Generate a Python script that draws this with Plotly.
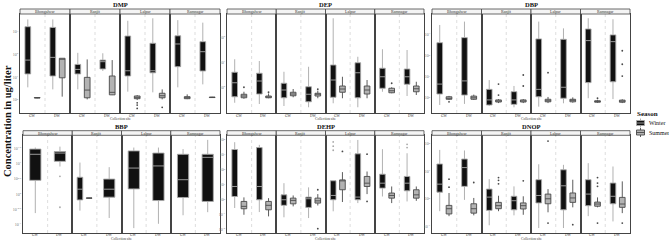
import plotly.graph_objects as go

SITES = ["Bhongalwar", "Ranjit", "Lalpur", "Ramnagar"]
CATS = ["GW", "DW"]
SEASONS = ["Winter", "Summer"]
PANELS = ["DMP", "DEP", "DBP", "BBP", "DEHP", "DNOP"]

# Each box: [lower whisker, q1, median, q3, upper whisker] in log10(ug/liter), one per site.
DMP_GW_WINTER = [[0.56, 1.15, 1.76, 3.23, 3.55], [0.47, 1.15, 1.35, 1.57, 2.08], [0.37, 1.06, 1.29, 2.82, 3.49], [0.56, 1.47, 2.47, 2.83, 3.52]]
DMP_GW_SUMMER = [[0.08, 0.09, 0.10, 0.11, 0.12], [0.03, 0.10, 0.44, 1.00, 1.79], [0.00, 0.06, 0.12, 0.18, 0.22], [0.04, 0.06, 0.10, 0.15, 0.25]]
DMP_DW_WINTER = [[0.47, 1.06, 1.88, 3.20, 3.55], [1.28, 1.37, 1.69, 1.76, 2.06], [0.34, 1.20, 1.29, 2.50, 3.60], [0.69, 1.28, 2.13, 2.57, 3.41]]
DMP_DW_SUMMER = [[0.15, 0.98, 1.80, 1.84, 1.84], [0.22, 0.23, 0.34, 1.06, 1.76], [0.03, 0.10, 0.19, 0.30, 0.47], [0.10, 0.11, 0.12, 0.13, 0.14]]
DMP_GW_SUMMER_OUT = [[], [], [-0.12, -0.22, -0.37], []]
DMP_DW_SUMMER_OUT = [[], [], [-0.32], []]

DEP_GW_WINTER = [[-0.62, -0.38, 0.18, 0.60, 1.12], [-0.75, -0.42, -0.11, 0.16, 0.62], [-0.64, -0.40, 0.29, 0.89, 2.76], [-0.18, -0.04, 0.42, 0.76, 1.52]]
DEP_GW_SUMMER = [[-0.46, -0.42, -0.35, -0.28, -0.18], [-0.40, -0.34, -0.27, -0.20, -0.07], [-0.44, -0.20, -0.07, 0.05, 0.42], [-0.24, -0.22, -0.14, -0.04, 0.00]]
DEP_DW_WINTER = [[-0.67, -0.27, 0.25, 0.56, 1.05], [-0.80, -0.58, -0.28, 0.02, 0.82], [-0.80, -0.42, 0.58, 0.98, 1.22], [-0.35, 0.12, 0.42, 0.73, 1.49]]
DEP_DW_SUMMER = [[-0.44, -0.42, -0.39, -0.35, -0.25], [-0.44, -0.35, -0.28, -0.24, -0.14], [-0.44, -0.27, -0.11, 0.05, 0.29], [-0.31, -0.18, -0.06, 0.05, 0.22]]
DEP_GW_SUMMER_OUT = [[0.0], [], [], [0.16]]
DEP_DW_SUMMER_OUT = [[-0.2], [-0.08], [], []]

DBP_GW_WINTER = [[-0.33, 0.19, 0.66, 2.62, 3.46], [-0.38, -0.33, -0.09, 0.41, 0.85], [-0.41, 0.06, 0.41, 2.80, 3.62], [-0.01, 0.73, 2.72, 3.27, 3.78]]
DBP_GW_SUMMER = [[-0.10, -0.06, -0.02, 0.06, 0.10], [-0.24, -0.19, -0.14, -0.09, -0.05], [-0.24, -0.18, -0.13, -0.06, 0.05], [-0.23, -0.20, -0.16, -0.13, -0.08]]
DBP_DW_WINTER = [[-0.28, 0.14, 0.81, 2.86, 3.62], [-0.44, -0.30, -0.09, 0.30, 0.57], [-0.25, -0.01, 0.51, 2.78, 3.30], [-0.05, 0.77, 2.67, 2.99, 3.73]]
DBP_DW_SUMMER = [[-0.09, -0.06, 0.01, 0.09, 0.16], [-0.24, -0.19, -0.14, -0.09, -0.05], [-0.22, -0.18, -0.11, -0.06, 0.03], [-0.24, -0.20, -0.15, -0.10, -0.06]]
DBP_GW_SUMMER_OUT = [[-0.18], [0.66, 0.14], [1.2], [-0.01]]
DBP_DW_SUMMER_OUT = [[], [1.09, 0.57], [], [2.24, 1.60, 1.04]]

BBP_GW_WINTER = [[-0.62, 0.45, 1.30, 1.47, 1.52], [-0.54, -0.19, 0.16, 0.55, 1.03], [-1.11, 0.17, 0.85, 1.41, 1.52], [-0.69, -0.11, 0.47, 1.30, 1.47]]
BBP_GW_SUMMER = [None, [-0.14, -0.135, -0.13, -0.125, -0.12], None, None]
BBP_DW_WINTER = [[0.90, 1.07, 1.34, 1.39, 1.55], [-0.78, -0.10, 0.16, 0.49, 0.88], [-0.97, -0.21, 0.92, 1.34, 1.52], [-0.59, -0.24, 1.20, 1.30, 1.77]]
BBP_DW_SUMMER = [None, None, None, None]
BBP_DW_WINTER_OUT = [[0.58, -0.43], [], [], []]

DEHP_GW_WINTER = [[-0.55, 0.22, 0.89, 3.36, 3.85], [-1.17, -0.37, 0.00, 0.33, 1.11], [-0.77, 0.00, 0.29, 1.27, 1.27], [0.22, 0.78, 1.11, 1.71, 3.38]]
DEHP_GW_SUMMER = [[-1.00, -0.60, -0.44, -0.11, 0.16], [-0.44, -0.27, -0.04, 0.11, 0.29], [-0.15, 0.67, 1.27, 1.33, 1.85], [-0.22, 0.11, 0.29, 0.45, 0.89]]
DEHP_DW_WINTER = [[-0.82, 0.00, 0.89, 3.49, 3.67], [-1.22, -0.51, 0.07, 0.18, 0.83], [-0.22, 0.00, 0.18, 3.07, 4.00], [-0.11, 0.60, 1.11, 1.56, 3.11]]
DEHP_DW_SUMMER = [[-1.11, -0.67, -0.37, -0.11, 0.11], [-0.38, -0.22, -0.07, 0.11, 0.38], [0.38, 0.89, 1.11, 1.56, 1.89], [-0.07, 0.11, 0.33, 0.67, 0.89]]
DEHP_GW_WINTER_OUT = [[], [], [3.87, 3.58, 3.31], []]
DEHP_GW_SUMMER_OUT = [[], [], [3.23], []]
DEHP_DW_WINTER_OUT = [[], [], [], [3.71, 3.49]]
DEHP_DW_SUMMER_OUT = [[], [0.67, -1.93], [3.05, -0.11], []]

DNOP_GW_WINTER = [[-0.44, 0.25, 0.54, 1.27, 1.78], [-0.95, -0.41, 0.07, 0.36, 0.72], [-1.05, -0.14, 0.13, 0.70, 1.26], [-0.62, -0.24, 0.18, 0.70, 1.30]]
DNOP_GW_SUMMER = [[-0.62, -0.54, -0.35, -0.23, 0.22], [-0.44, -0.35, -0.24, -0.12, 0.12], [-0.48, -0.17, 0.01, 0.18, 0.36], [-0.30, -0.26, -0.18, -0.11, 0.06]]
DNOP_DW_WINTER = [[-0.03, 0.46, 1.14, 1.45, 1.76], [-0.59, -0.39, -0.06, 0.10, 0.46], [-1.05, -0.39, 0.48, 1.06, 1.24], [-0.81, -0.17, 0.10, 0.58, 1.18]]
DNOP_DW_SUMMER = [[-0.59, -0.51, -0.35, -0.17, 0.04], [-0.57, -0.36, -0.24, -0.14, 0.10], [-0.30, -0.12, 0.04, 0.22, 0.70], [-0.51, -0.30, -0.18, 0.06, 0.64]]
DNOP_GW_SUMMER_OUT = [[0.72, 0.43], [0.78, 0.68, 0.55], [2.10, -0.87], [0.78, 0.58, 0.46, -0.87]]
DNOP_DW_SUMMER_OUT = [[0.60], [0.66], [-0.93], [-0.87]]

# Axis ranges (log10) and tick positions (log10) per compound
Y_RANGE = {"DMP": [-0.57, 3.79], "DEP": [-1.03, 2.93], "DBP": [-0.71, 3.98],
           "BBP": [-1.27, 1.92], "DEHP": [-2.22, 4.31], "DNOP": [-1.23, 2.31]}
Y_TICKS = {"DMP": [0, 1, 2, 3], "DEP": [0, 1, 2], "DBP": [0, 1, 2, 3],
           "BBP": [-1, -0.5, 0, 0.5, 1, 1.5], "DEHP": [-2, -1, 0, 1, 2, 3, 4], "DNOP": [-1, 0, 1, 2]}

g = globals()
def arr(name):
    return g.get(name)

W, H = 669, 244
PANEL_X = {"DMP": (20, 220), "DEP": (227, 424), "DBP": (432, 630),
           "BBP": (23, 220), "DEHP": (227, 424), "DNOP": (432, 630)}
ROWS = [dict(plot=(14, 113), strip=(9, 14), title=4.5, tick=115.8, coll=118.8),
        dict(plot=(135.3, 233), strip=(130.7, 135.3), title=126, tick=235.3, coll=239.3)]

STYLE = {"Winter": dict(fill="#111111", line="#a8a8a8"),
         "Summer": dict(fill="#b3b3b3", line="#4a4a4a")}
SERIF = "Liberation Serif, Times New Roman, serif"

fig = go.Figure()
layout = {}
shapes = []
annotations = []

def tick_text(t):
    return "10<sup>%g</sup>" % t

def P(px, py):
    return px / W, 1 - py / H

for pi, panel in enumerate(PANELS):
    row = ROWS[pi // 3]
    px0, px1 = PANEL_X[panel]
    fw = (px1 - px0) / 4.0
    yt, yb = row["plot"]
    for si, site in enumerate(SITES):
        n = pi * 4 + si + 1
        xs = "" if n == 1 else str(n)
        fx0 = px0 + si * fw
        fx1 = fx0 + fw
        layout["xaxis" + xs] = dict(
            domain=[fx0 / W, fx1 / W], anchor="y" + xs, type="category",
            categoryorder="array", categoryarray=CATS, range=[-0.5, 1.5],
            showline=True, mirror=True, linecolor="#444444", linewidth=1,
            ticks="", showgrid=False, zeroline=False, showticklabels=False)
        layout["yaxis" + xs] = dict(
            domain=[1 - yb / H, 1 - yt / H], anchor="x" + xs, type="log",
            range=Y_RANGE[panel], showline=True, mirror=True, linecolor="#444444",
            linewidth=1, showgrid=False, zeroline=False,
            tickmode="array", tickvals=[10 ** t for t in Y_TICKS[panel]],
            ticktext=[tick_text(t) for t in Y_TICKS[panel]],
            showticklabels=(si == 0), ticks="",
            tickfont=dict(size=4, color="#777777", family=SERIF))
        # dotted separator between GW and DW
        shapes.append(dict(type="line", xref="x" + xs, yref="y" + xs + " domain",
                           x0=0.5, x1=0.5, y0=0, y1=1,
                           line=dict(color="#c8c8c8", width=0.6, dash="dot")))
        # facet strip
        st0, st1 = row["strip"]
        shapes.append(dict(type="rect", xref="paper", yref="paper",
                           x0=fx0 / W, x1=fx1 / W, y0=1 - st1 / H, y1=1 - st0 / H,
                           fillcolor="#f4f4f4", line=dict(color="#444444", width=0.8)))
        annotations.append(dict(text=site, xref="paper", yref="paper",
                                x=(fx0 + fx1) / 2 / W, y=1 - (st0 + st1) / 2 / H,
                                showarrow=False, font=dict(size=4, color="#333333", family=SERIF),
                                xanchor="center", yanchor="middle", borderpad=0))
        for cat in CATS:
            annotations.append(dict(text=cat, xref="x" + xs, yref="paper", x=cat,
                                    y=1 - row["tick"] / H, showarrow=False,
                                    font=dict(size=3.6, color="#333333", family=SERIF),
                                    xanchor="center", yanchor="middle", borderpad=0))
            for season in SEASONS:
                base = "%s_%s_%s" % (panel, cat, season.upper())
                boxes = arr(base)
                if boxes is None or boxes[si] is None:
                    continue
                lo, q1, med, q3, hi = boxes[si]
                outs = arr(base + "_OUT")
                pts = outs[si] if outs else []
                stl = STYLE[season]
                if pts:
                    kw = dict(y=[[10 ** v for v in pts]], boxpoints="all", jitter=0, pointpos=0)
                else:
                    kw = dict(boxpoints=False)
                fig.add_trace(go.Box(
                    x=[cat], q1=[10 ** q1], median=[10 ** med], q3=[10 ** q3],
                    lowerfence=[10 ** lo], upperfence=[10 ** hi],
                    fillcolor=stl["fill"], line=dict(color=stl["line"], width=0.9),
                    marker=dict(color=stl["line"], size=1.8),
                    whiskerwidth=0, name=season, legendgroup=season, showlegend=False,
                    alignmentgroup="%d%s" % (n, cat), offsetgroup=season,
                    xaxis="x" + xs, yaxis="y" + xs, hoverinfo="skip", **kw))
    # panel title and x-axis title
    annotations.append(dict(text="<b>%s</b>" % panel, xref="paper", yref="paper",
                            x=(px0 + px1) / 2 / W, y=1 - row["title"] / H, showarrow=False,
                            font=dict(size=6.5, color="#111111", family=SERIF),
                            xanchor="center", yanchor="middle", borderpad=0))
    annotations.append(dict(text="Collection site", xref="paper", yref="paper",
                            x=(px0 + px1) / 2 / W, y=1 - row["coll"] / H, showarrow=False,
                            font=dict(size=3.6, color="#333333", family=SERIF),
                            xanchor="center", yanchor="middle", borderpad=0))

annotations.append(dict(text="<b>Concentration in ug/liter</b>", xref="paper", yref="paper",
                        x=7 / W, y=1 - 121 / H, textangle=-90, showarrow=False,
                        font=dict(size=10.5, color="#111111", family=SERIF),
                        xanchor="center", yanchor="middle"))

# Legend (drawn as keys + labels, ggplot style)
annotations.append(dict(text="<b>Season</b>", xref="paper", yref="paper",
                        x=635.5 / W, y=1 - 113.5 / H, showarrow=False, xanchor="left",
                        yanchor="middle", borderpad=0,
                        font=dict(size=7, color="#111111", family=SERIF)))
for i, season in enumerate(SEASONS):
    cy = 123 + 9.5 * i
    stl = STYLE[season]
    x0, y0 = P(636.5, cy - 2.5)
    x1, y1 = P(644.5, cy + 2.5)
    shapes.append(dict(type="line", xref="paper", yref="paper",
                       x0=640.5 / W, x1=640.5 / W, y0=1 - (cy - 4.5) / H, y1=1 - (cy + 4.5) / H,
                       line=dict(color=stl["line"], width=0.9)))
    shapes.append(dict(type="rect", xref="paper", yref="paper", x0=x0, x1=x1, y0=y1, y1=y0,
                       fillcolor=stl["fill"], line=dict(color=stl["line"], width=0.9)))
    shapes.append(dict(type="line", xref="paper", yref="paper",
                       x0=x0, x1=x1, y0=1 - cy / H, y1=1 - cy / H,
                       line=dict(color=stl["line"], width=0.9)))
    annotations.append(dict(text=season, xref="paper", yref="paper",
                            x=647.5 / W, y=1 - cy / H, showarrow=False, xanchor="left",
                            yanchor="middle", borderpad=0,
                            font=dict(size=6, color="#111111", family=SERIF)))

fig.update_layout(
    width=W, height=H, margin=dict(l=0, r=0, t=0, b=0),
    paper_bgcolor="white", plot_bgcolor="white", showlegend=False,
    boxmode="group", boxgap=0.25, boxgroupgap=0.39,
    shapes=shapes, annotations=annotations,
    **layout)

fig.write_html("out.html", config={"displayModeBar": False, "staticPlot": True},
               post_script="document.body.style.margin='0';document.body.style.overflow='hidden';")
